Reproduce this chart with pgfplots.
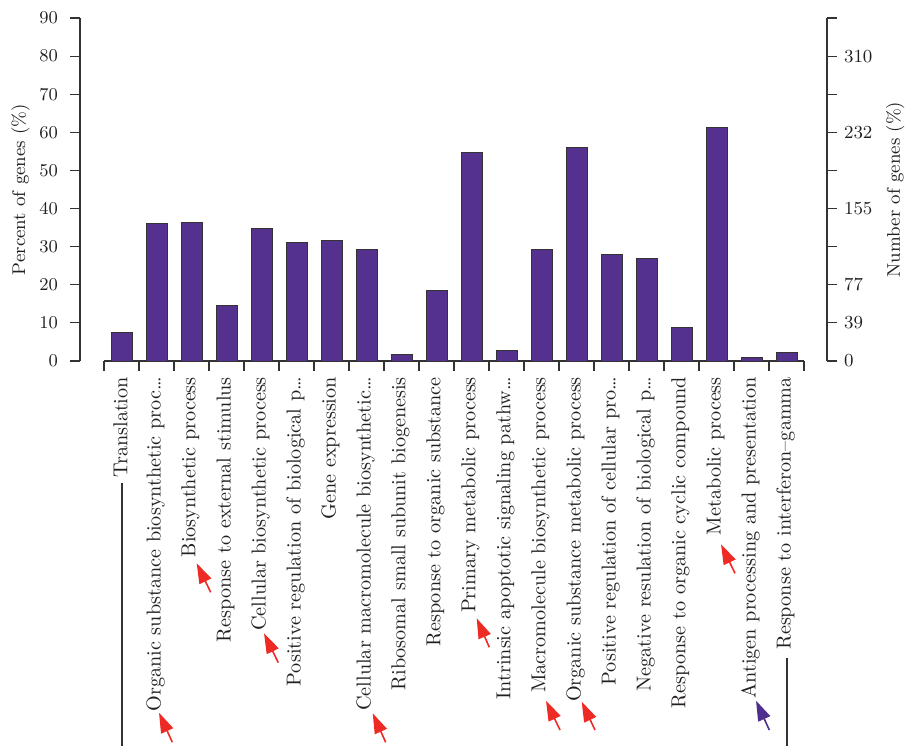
\documentclass[border=0pt]{standalone}
\usepackage{pgfplots}
\pgfplotsset{compat=1.18}
\usetikzlibrary{arrows.meta}
\definecolor{barpurple}{HTML}{54308F}
\definecolor{arrred}{HTML}{EE2A24}
\definecolor{arrpurple}{HTML}{4F2D8F}
\definecolor{edge}{HTML}{333333}
\definecolor{txt}{HTML}{231F20}
\begin{document}
\begin{tikzpicture}
\path[use as bounding box] (0,0) rectangle (454pt,-374pt);
% main axis with bars
\begin{axis}[
  at={(52pt,-180.5pt)}, anchor=south west,
  scale only axis, width=350pt, height=171.5pt,
  xmin=0.5, xmax=20.5, ymin=0, ymax=90,
  axis y line=none, axis x line*=bottom,
  x axis line style={edge, line width=0.6pt},
  xtick={1,...,20},
  xticklabels={Translation, Organic substance biosynthetic proc\ldots, Biosynthetic process, Response to external stimulus, Cellular biosynthetic process, Positive regulation of biological p\ldots, Gene expression, Cellular macromolecule biosynthetic\ldots, Ribosomal small subunit biogenesis, Response to organic substance, Primary metabolic process, Intrinsic apoptotic signaling pathw\ldots, Macromolecule biosynthetic process, Organic substance metabolic process, Positive regulation of cellular pro\ldots, Negative resulation of biological p\ldots, Response to organic cyclic compound, Metabolic process, Antigen processing and presentation, Response to interferon{--}gamma},
  major tick length=0pt,
  minor xtick={0.5,1.5,...,20.5},
  minor tick length=5pt, tick align=outside,
  minor tick style={edge, line width=0.6pt},
  xticklabel style={rotate=90, anchor=east, font=\fontsize{10.1}{11}\selectfont, xshift=-4.5pt, yshift=0.5pt, text=txt},
  clip=false,
]
\addplot[ybar, bar width=0.6, bar shift=0pt, fill=barpurple, draw=edge, line width=0.5pt] coordinates {
(1,7.6) (2,36.0) (3,36.4) (4,14.6) (5,34.7) (6,31.0) (7,31.7) (8,29.2) (9,1.8) (10,18.5)
(11,54.8) (12,2.7) (13,29.2) (14,56.1) (15,27.9) (16,26.9) (17,8.8) (18,61.2) (19,1.05) (20,2.2)
};
\end{axis}
% left axis
\begin{axis}[
  at={(40pt,-180.5pt)}, anchor=south west,
  scale only axis, width=1pt, height=171.5pt,
  xmin=0, xmax=1, ymin=0, ymax=90,
  axis x line=none, axis y line=left,
  y axis line style={-, edge, line width=0.6pt},
  ytick={0,10,...,90}, tick align=outside, major tick length=5pt,
  tick style={edge, line width=0.6pt},
  yticklabel style={font=\fontsize{9.2}{11}\selectfont, text=txt, xshift=-2.5pt},
  ylabel={Percent of genes (\%)},
  ylabel style={font=\fontsize{9.2}{11}\selectfont, text=txt, yshift=-2pt},
]
\end{axis}
% right axis
\begin{axis}[
  at={(413.5pt,-180.5pt)}, anchor=south east,
  scale only axis, width=1pt, height=171.5pt,
  xmin=0, xmax=1, ymin=0, ymax=90,
  axis x line=none, axis y line=right,
  y axis line style={-, edge, line width=0.6pt},
  ytick={0,10,...,90}, yticklabels={0,39,77,,155,,232,,310,},
  tick align=outside, major tick length=5pt,
  tick style={edge, line width=0.6pt},
  yticklabel style={font=\fontsize{9.2}{11}\selectfont, text=txt},
  ylabel={Number of genes (\%)},
  ylabel style={font=\fontsize{9.2}{11}\selectfont, text=txt},
]
\end{axis}
% annotations in pixel coordinates
\begin{scope}[x=0.5pt, y=-0.5pt]
\draw[edge, line width=0.6pt] (122,483) -- (122,746);
\draw[edge, line width=0.6pt] (787,658) -- (787,746);
\foreach \ax/\ay/\bx/\by in {159/712.7/172.3/742.3, 196.7/563.3/210.7/592.3, 264/633.3/278.3/662.7, 372.7/713.3/385.7/742.3, 476.7/618.3/489.3/647.3, 546/700.7/560/730, 581.7/701.7/595/730, 721/544.3/735/573.3}
  \draw[arrred, line width=0.8pt, -{Triangle[length=10pt, width=6.5pt]}] (\bx,\by) -- (\ax,\ay);
\draw[arrpurple, line width=0.8pt, -{Triangle[length=10pt, width=6.5pt]}] (769.3,730) -- (756,700.7);
\end{scope}
\end{tikzpicture}
\end{document}
